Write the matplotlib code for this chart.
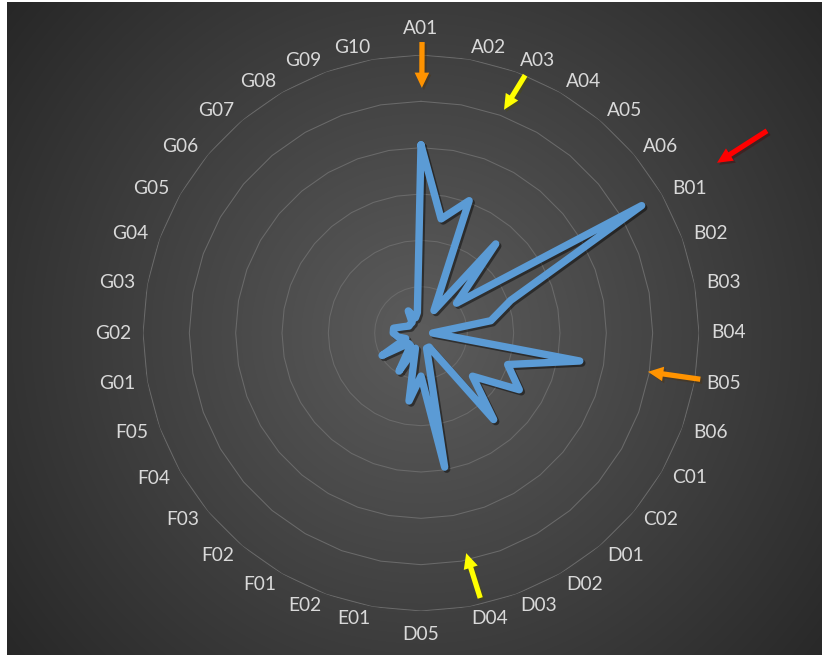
import numpy as np
import matplotlib
matplotlib.use("Agg")
import matplotlib.pyplot as plt
from matplotlib import patheffects as pe

# ---- data -------------------------------------------------------------
categories = [
    "A01", "A02", "A03", "A04", "A05", "A06",
    "B01", "B02", "B03", "B04", "B05", "B06",
    "C01", "C02",
    "D01", "D02", "D03", "D04", "D05",
    "E01", "E02",
    "F01", "F02", "F03", "F04", "F05",
    "G01", "G02", "G03", "G04", "G05", "G06", "G07", "G08", "G09", "G10",
]
values = [
    40.6, 25.0, 30.4, 5.6, 25.1, 10.0,
    55.0, 20.6, 15.3, 2.5, 34.8, 19.9,
    24.5, 14.5,
    24.4, 3.5, 3.5, 29.4, 9.3,
    14.9, 3.5,
    9.5, 3.5, 3.5, 9.7, 3.5,
    5.0, 6.0, 6.0, 4.0, 3.0, 3.0, 3.0, 5.5, 3.5, 4.5,
]
ring_levels = [10, 20, 30, 40, 50, 60]

# highlight arrows: colour, tip (angle deg, radius), tail (angle deg, radius)
arrow_colors = ["#FF9300", "#FFFF00", "#FF0000", "#FF9300", "#FFFF00"]
arrow_tips = [(0.2, 52.9), (20.4, 51.4), (60.1, 73.7), (99.7, 49.7), (168.4, 48.5)]
arrow_tails = [(0.2, 62.8), (22.0, 60.0), (59.7, 86.5), (99.4, 61.1), (167.4, 58.6)]

# ---- figure -----------------------------------------------------------
W, H, DPI = 827, 658, 100
fig = plt.figure(figsize=(W / DPI, H / DPI), dpi=DPI)
fig.patch.set_facecolor("white")

# dark chart area with a radial gradient
x0, x1, y0, y1 = 7, 822, 2, 655
cx, cy = 421, 333
bg = fig.add_axes([x0 / W, (H - y1) / H, (x1 - x0) / W, (y1 - y0) / H])
yy, xx = np.mgrid[y0:y1, x0:x1]
d = np.hypot(xx - cx, yy - cy)
t = np.clip(d / np.hypot(max(cx - x0, x1 - cx), max(cy - y0, y1 - cy)), 0, 1)
c_in = np.array([0x5C, 0x5C, 0x5C]) / 255
c_out = np.array([0x27, 0x27, 0x27]) / 255
img = c_in + (c_out - c_in) * t[..., None]
bg.imshow(img, aspect="auto", interpolation="bilinear")
bg.axis("off")

# radar plot
R = 278
ax = fig.add_axes([(cx - R) / W, (H - cy - R) / H, 2 * R / W, 2 * R / H],
                  projection="polar")
ax.set_facecolor("none")
ax.set_theta_zero_location("N")
ax.set_theta_direction(-1)
ax.set_ylim(0, ring_levels[-1])
ax.axis("off")

n = len(categories)
theta = np.arange(n) * 2 * np.pi / n
theta_c = np.append(theta, theta[0])

for lvl in ring_levels:
    ax.plot(theta_c, [lvl] * (n + 1), color="#6A6A6A", lw=0.75, zorder=1)

vals_c = np.append(values, values[0])
ax.plot(theta_c, vals_c, color="#5B9BD5", lw=5.3,
        solid_joinstyle="round", solid_capstyle="round", zorder=3,
        path_effects=[pe.SimpleLineShadow(offset=(1.5, -1.5), shadow_color="black",
                                          alpha=0.45),
                      pe.Normal()])

# category labels
label_r = ring_levels[-1] * 290 / R
for ang, lab in zip(theta, categories):
    s, c = np.sin(ang), np.cos(ang)
    r = label_r
    if abs(s) < 1e-6:
        ha = "center"
        va = "baseline" if c > 0 else "top"
        r = ring_levels[-1] * (299 if c > 0 else 293) / R
    else:
        ha = "left" if s > 0 else "right"
        va = "center"
    ax.text(ang, r, lab, ha=ha, va=va, fontsize=13.8, color="#D9D9D9",
            family="Lato", clip_on=False)

# highlight arrows
for col, (ta, tr), (sa, sr) in zip(arrow_colors, arrow_tips, arrow_tails):
    ann = ax.annotate("", xy=(np.radians(ta), tr), xytext=(np.radians(sa), sr),
                      xycoords="data", textcoords="data", annotation_clip=False,
                      arrowprops=dict(arrowstyle="simple,head_length=1.1,head_width=1.05,tail_width=0.38",
                                      mutation_scale=10, color=col, lw=0,
                                      shrinkA=0, shrinkB=0,
                                      path_effects=[pe.SimplePatchShadow(offset=(1.5, -1.5),
                                                                         alpha=0.35),
                                                    pe.Normal()]))
    ann.arrow_patch.set_clip_on(False)
    ann.set_zorder(5)

fig.savefig("out.png", dpi=DPI)
